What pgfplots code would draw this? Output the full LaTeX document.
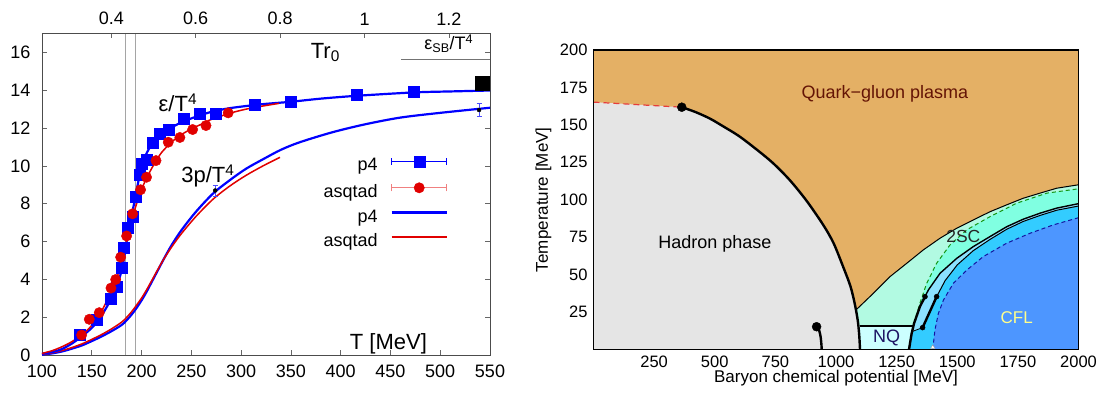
\documentclass[border=0pt]{standalone}
\usepackage{pgfplots}
\pgfplotsset{compat=1.18}
\usepackage{fontspec}
\setmainfont{Liberation Sans}
\newcommand\fs[1]{\fontsize{#1}{#1}\selectfont}

\definecolor{pblue}{RGB}{0,0,255}
\definecolor{pred}{RGB}{225,0,0}
\definecolor{vline}{RGB}{165,165,165}
\definecolor{qgp}{RGB}{228,176,101}
\definecolor{hadron}{RGB}{229,229,229}
\definecolor{pale}{RGB}{178,250,226}
\definecolor{aqua}{RGB}{128,255,225}
\definecolor{usc}{RGB}{51,204,255}
\definecolor{sliver}{RGB}{140,225,255}
\definecolor{cfl}{RGB}{77,150,255}
\definecolor{nq}{RGB}{204,255,255}
\definecolor{qgptext}{RGB}{100,20,5}
\definecolor{nqtext}{RGB}{30,20,100}
\definecolor{cfltext}{RGB}{255,255,140}
\definecolor{dgreen}{RGB}{20,150,20}
\definecolor{dblue}{RGB}{20,20,160}
\definecolor{cepred}{RGB}{230,60,60}

\begin{document}
\begin{tikzpicture}
\useasboundingbox (0,0) rectangle (1105pt,398pt);

% ---------------- left: equation of state ----------------
\begin{axis}[
  at={(42pt,42.7pt)}, anchor=south west, scale only axis,
  width=448pt, height=322pt,
  xmin=100, xmax=550, ymin=0, ymax=17,
  xtick={100,150,...,550}, ytick={0,2,...,16},
  xtick pos=left, ytick pos=both,
  tick align=inside, major tick length=5pt,
  tick style={draw=black!60, line width=0.6pt},
  axis line style={draw=black!70, line width=0.8pt},
  ticklabel style={font=\fs{18}},
  /pgf/number format/assume math mode=true,
  xticklabel style={yshift=-6pt},
  yticklabel style={xshift=-8pt},
  legend style={at={(axis description cs:0.9063,0.6211)}, anchor=north east,
    draw=none, fill=none, font=\fs{18}, inner sep=0pt,
    row sep=7.7pt, column sep=13pt,
    nodes={inner sep=0pt, text height=13pt, text depth=4pt}},
  legend cell align=right, legend plot pos=right,
]
% transition region
\addplot[forget plot, vline, line width=1.2pt] coordinates {(184,0) (184,17)};
\addplot[forget plot, vline, line width=1.2pt] coordinates {(194,0) (194,17)};
% Stefan-Boltzmann limit
\addplot[forget plot, black!55, line width=0.8pt] coordinates {(461,15.63) (550,15.63)};

% 3p/T^4
\addplot[forget plot, pblue, line width=2.2pt, smooth] coordinates {
 (100,0.03) (110,0.1) (120,0.2) (130,0.35) (140,0.52) (150,0.75) (160,1.0)
 (170,1.28) (180,1.6) (185,1.85) (190,2.15) (195,2.5) (200,2.9) (205,3.35)
 (210,3.85) (215,4.35) (222,5.05) (230,5.8) (240,6.6) (255,7.6) (272,8.55)
 (289,9.26) (305,9.85) (322,10.35) (340,10.85) (359,11.25) (392,11.78)
 (425,12.2) (460,12.55) (500,12.8) (550,13.07)};
\addplot[forget plot, pred, line width=1.5pt, smooth] coordinates {
 (100,0.05) (110,0.13) (120,0.25) (130,0.41) (140,0.6) (150,0.84) (160,1.1)
 (170,1.4) (180,1.75) (185,2.0) (190,2.3) (195,2.65) (200,3.02) (205,3.45)
 (210,3.92) (215,4.4) (222,5.05) (230,5.7) (240,6.42) (255,7.35) (272,8.25)
 (289,8.95) (305,9.5) (322,10.0) (339,10.45)};
\addplot[forget plot, only marks, mark=none, error bars/.cd, y dir=both, y explicit,
  error bar style={draw=pblue!70, line width=0.6pt},
  error mark options={rotate=90, mark size=2.5pt, draw=pblue!70, line width=0.6pt}]
  coordinates {(274,8.7) +- (0,0.3) (539,12.95) +- (0,0.35)};

% epsilon/T^4
\addplot[forget plot, pblue, line width=2.2pt, smooth] coordinates {
 (100,0.08) (110,0.17) (120,0.33) (130,0.62) (140,1.0) (150,1.45) (158,1.95)
 (165,2.55) (171.6,3.19) (178.3,4.16) (182,5.0) (185,6.0) (188,6.9)
 (191.7,7.8) (195,8.7) (198,9.5) (200,10.0) (204,10.55) (208,10.95)
 (212,11.25) (218,11.6) (226,11.9) (240,12.3) (255,12.6) (270,12.85)
 (289,13.05) (320,13.25) (349,13.38) (380,13.55) (416,13.7) (474,13.88)
 (510,13.93) (550,13.98)};
\addplot[forget plot, pred, line width=1.5pt, smooth] coordinates {
 (100,0.1) (110,0.24) (120,0.45) (130,0.72) (140,1.08) (150,1.58) (160,2.35)
 (170,3.4) (175,4.05) (180,4.95) (185,6.05) (190,7.1) (195,8.0) (200,8.75)
 (205,9.35) (210,9.85) (215,10.3) (220,10.7) (230,11.25) (240,11.65)
 (250,11.95) (260,12.2) (270,12.45) (290,12.8) (310,13.05) (338,13.3)};
\addplot[forget plot, only marks, mark=square*, mark size=5.5pt, pblue] coordinates {
 (138,1.07) (155,1.87) (169,3.0) (175,3.6) (180,4.65) (182.3,5.66)
 (185.6,6.72) (190.7,7.33) (194.4,8.39) (197.7,9.54) (200,10.12) (205,10.33)
 (211,11.2) (218.5,11.7) (226.8,11.92) (241.9,12.5) (258,12.75) (274.7,12.75)
 (313.9,13.24) (349.7,13.4) (416,13.76) (473.5,13.9)};
\addplot[forget plot, only marks, mark=*, mark size=5.2pt, pred] coordinates {
 (139.8,1.07) (147.5,1.9) (157.5,2.25) (169.3,3.55) (174,4.0) (179,5.18)
 (185,6.3) (191,7.47) (199,8.74) (205,9.4) (214.5,10.28) (226.8,11.25)
 (238.5,11.5) (251.3,11.92) (264.7,12.13) (287,12.8)};
\addplot[forget plot, only marks, mark=square*, mark size=7pt, black] coordinates {(542,14.35)};

\node[font=\fs{22}, anchor=base] at (axis cs:236.5,12.85) {ε/T\textsuperscript{4}};
\node[font=\fs{22}, anchor=base] at (axis cs:266.7,9.1) {3p/T\textsuperscript{4}};
\node[font=\fs{22}, anchor=base] at (axis cs:384.6,15.68) {Tr\textsubscript{0}};
\node[font=\fs{18}, anchor=base] at (axis cs:508.6,16.12) {ε\textsubscript{SB}/T\textsuperscript{4}};
\node[font=\fs{22}, anchor=base] at (axis cs:448,0.33) {T [MeV]};

\addlegendimage{legend image code/.code={
  \draw[pblue, line width=0.7pt] (0pt,5pt) -- (55pt,5pt)
    (0pt,1.5pt) -- (0pt,8.5pt) (55pt,1.5pt) -- (55pt,8.5pt);
  \fill[pblue] (22pt,-0.5pt) rectangle (33pt,10.5pt);}}
\addlegendentry{p4}
\addlegendimage{legend image code/.code={
  \draw[pred!50, line width=0.7pt] (0pt,5pt) -- (55pt,5pt)
    (0pt,1.5pt) -- (0pt,8.5pt) (55pt,1.5pt) -- (55pt,8.5pt);
  \fill[pred] (27.5pt,5pt) circle (5.2pt);}}
\addlegendentry{asqtad}
\addlegendimage{legend image code/.code={
  \draw[pblue, line width=2.2pt] (0pt,5pt) -- (55pt,5pt);}}
\addlegendentry{p4}
\addlegendimage{legend image code/.code={
  \draw[pred, line width=1.5pt] (0pt,5pt) -- (55pt,5pt);}}
\addlegendentry{asqtad}
\end{axis}

% upper scale in units of r0
\begin{axis}[
  at={(42pt,42.7pt)}, anchor=south west, scale only axis,
  width=448pt, height=322pt,
  xmin=0.235849, xmax=1.297170, ymin=0, ymax=17,
  axis x line*=top, axis y line=none,
  xtick={0.4,0.6,0.8,1,1.2}, xticklabels={0.4,0.6,0.8,1,1.2},
  tick align=inside, major tick length=5pt,
  tick style={draw=black!60, line width=0.6pt},
  axis line style={draw=black!70, line width=0.8pt},
  ticklabel style={font=\fs{18}},
  xticklabel style={yshift=4.6pt},
]
\addplot[draw=none] coordinates {(0.5,1)};
\end{axis}

% ---------------- right: phase diagram ----------------
\begin{axis}[
  at={(593.5pt,48.5pt)}, anchor=south west, scale only axis,
  width=485pt, height=299.5pt,
  xmin=0, xmax=2000, ymin=0, ymax=200,
  xtick={250,500,...,2000}, ytick={25,50,...,200},
  major tick length=0pt,
  axis line style={line width=1.6pt, black},
  axis on top,
  axis background/.style={fill=qgp},
  ticklabel style={font=\fs{16.5}},
  /pgf/number format/assume math mode=true,
  /pgf/number format/1000 sep={},
  xticklabel style={yshift=-2.5pt},
  yticklabel style={xshift=-2.5pt},
  xlabel={Baryon chemical potential [MeV]},
  ylabel={Temperature [MeV]},
  label style={font=\fs{17}},
  xlabel style={at={(axis description cs:0.5,-0.0568)}, anchor=north},
  ylabel style={at={(axis description cs:-0.0794,0.5)}, anchor=south},
]
% hadron phase
\addplot[fill=hadron, draw=none] coordinates {
 (0,0) (0,165.2) (364,161.8) (420,158.6) (480,154.2) (535,149) (600,142.5)
 (673,133.5) (740,124.5) (810,113) (880,99) (948,83) (990,71) (1030,55)
 (1060,42) (1078,30) (1090,19) (1096,9) (1099,0)} -- cycle;
% colour superconducting phases
\addplot[fill=pale, draw=none] coordinates {
 (1083,26.5) (1154,37.5) (1223,48.7) (1292,57.6) (1360,66.5) (1429,74.3)
 (1498,81) (1566,86.5) (1635,92) (1704,96.6) (1772,101) (1841,104.4)
 (1910,107.7) (2000,110) (2000,0) (1099,0) (1096,9) (1090,19)} -- cycle;
\addplot[fill=aqua, draw=none] coordinates {
 (1322,17.5) (1346,30.9) (1374,44.2) (1415,57.6) (1470,69.8) (1539,79.9)
 (1635,88.7) (1745,97.7) (1869,104.4) (2000,107.3) (2000,0) (1322,0)} -- cycle;
\addplot[fill=usc, draw=none] coordinates {
 (1301,0) (1312,10.8) (1322,17.5) (1346,28.6) (1381,39.8) (1429,50.9)
 (1498,60.9) (1566,68.7) (1635,75.4) (1704,82) (1772,87) (1841,91)
 (1910,94.4) (2000,97.4) (2000,0)} -- cycle;
\addplot[fill=sliver, draw=none] coordinates {
 (1314,12) (1322,17.5) (1346,28.6) (1381,39.8) (1429,50.9) (1498,60.9)
 (1566,68.7) (1635,75.4) (1704,82) (1772,87) (1841,91) (1910,94.4)
 (2000,97.4) (2000,95.8) (1910,93) (1841,89.5) (1772,85.5) (1704,80.3)
 (1635,73.5) (1566,66) (1500,56.5) (1450,46) (1415,35.3) (1357,14.6)} -- cycle;
\addplot[fill=cfl, draw=none] coordinates {
 (1399,0) (1408,13) (1422,24) (1443,33) (1484,44.2) (1539,53) (1607,62)
 (1704,71) (1800,77.6) (1896,83.2) (2000,88) (2000,0)} -- cycle;
\addplot[fill=nq, draw=none] coordinates {
 (1099,0) (1098,16) (1320,16) (1312,10.8) (1301,0)} -- cycle;

% phase boundaries
\addplot[cepred, line width=1.2pt, dash pattern=on 6pt off 4pt] coordinates {(0,165.2) (364,161.8)};
\addplot[black, line width=1pt] coordinates {
 (1083,26.5) (1154,37.5) (1223,48.7) (1292,57.6) (1360,66.5) (1429,74.3)
 (1498,81) (1566,86.5) (1635,92) (1704,96.6) (1772,101) (1841,104.4)
 (1910,107.7) (2000,110)};
\addplot[dgreen, line width=1pt, dash pattern=on 4pt off 3pt] coordinates {
 (1322,17.5) (1346,30.9) (1374,44.2) (1415,57.6) (1470,69.8) (1539,79.9)
 (1635,88.7) (1745,97.7) (1869,104.4) (2000,107.3)};
\addplot[dblue, line width=1pt, dash pattern=on 4pt off 3pt] coordinates {
 (1399,0) (1408,13) (1422,24) (1443,33) (1484,44.2) (1539,53) (1607,62)
 (1704,71) (1800,77.6) (1896,83.2) (2000,88)};
\addplot[black, line width=1pt] coordinates {
 (1415,35.3) (1450,46) (1500,56.5) (1566,66) (1635,73.5) (1704,80.3)
 (1772,85.5) (1841,89.5) (1910,93) (2000,95.8)};
\addplot[black, line width=2.4pt] coordinates {(1357,14.6) (1415,35.3)};
\addplot[black, line width=0.8pt] coordinates {(1314,12) (1357,14.6)};
\addplot[black, line width=1.4pt] coordinates {
 (1367,35.3) (1381,39.8) (1429,50.9) (1498,60.9) (1566,68.7) (1635,75.4)
 (1704,82) (1772,87) (1841,91) (1910,94.4) (2000,97.4)};
\addplot[black, line width=2.4pt] coordinates {
 (1301,0) (1312,10.8) (1322,17.5) (1346,28.6) (1367,35.3)};
\addplot[black, line width=2pt] coordinates {(1097,16) (1321,16)};
\addplot[black, line width=2.4pt, smooth] coordinates {
 (364,161.8) (420,158.6) (480,154.2) (535,149) (600,142.5) (673,133.5)
 (740,124.5) (810,113) (880,99) (948,83) (990,71) (1030,55) (1060,42)
 (1078,30) (1090,19) (1096,9) (1099,0)};
\addplot[black, line width=2.4pt, smooth] coordinates {
 (920,15.2) (931,12.5) (937,8) (940,3) (941,0)};
\addplot[only marks, mark=*, mark size=4.5pt, black] coordinates {(364,161.8) (920,15.2)};
\addplot[only marks, mark=*, mark size=2.5pt, black] coordinates {(1367,35.3) (1415,35.3) (1357,14.6)};
\addplot[only marks, mark=triangle*, mark size=2.5pt, mark options={fill=white, draw=black!40}] coordinates {(1399,1.5)};

\node[font=\fs{18}, text=qgptext] at (axis cs:1202,170.5) {Quark−gluon plasma};
\node[font=\fs{18}] at (axis cs:501,70.5) {Hadron phase};
\node[font=\fs{17.5}, text=black!85] at (axis cs:1525,75.5) {2SC};
\node[font=\fs{18}, text=nqtext] at (axis cs:1209,7.5) {NQ};
\node[font=\fs{17}, text=cfltext] at (axis cs:1745,21.3) {CFL};
\end{axis}
\end{tikzpicture}
\end{document}
